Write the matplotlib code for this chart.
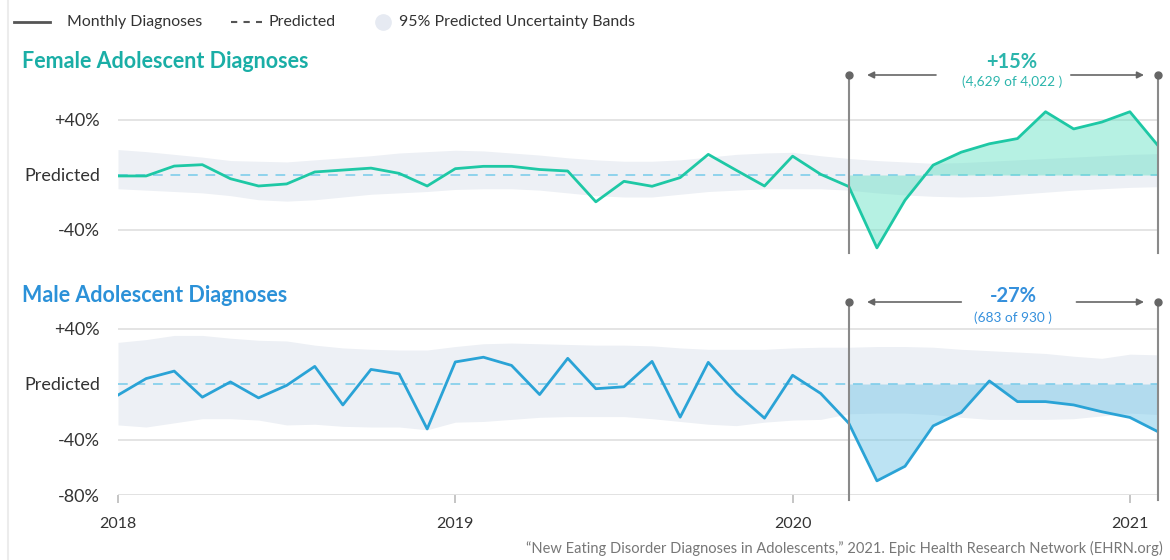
import numpy as np
import matplotlib
matplotlib.use("Agg")
import matplotlib.pyplot as plt
from matplotlib.lines import Line2D

plt.rcParams['font.family'] = ['Lato', 'DejaVu Sans']

# months since Jan 2018 (0 = 2018-01 ... 37 = 2021-02)
months = np.arange(38)
year_ticks = [0, 12, 24, 36]
year_labels = ["2018", "2019", "2020", "2021"]

# % difference from predicted
female = [-0.7, -0.7, 6.5, 7.5, -2.7, -8, -6.5, 2.2, 3.6, 5, 1.2, -8, 4.6, 6.3, 6.3, 4, 2.9, -19.5,
          -4.6, -8.2, -1.9, 15, 3.4, -8, 13.7, 0.5, -8.4, -53, -18.3, 7.2, 16.6, 22.7, 26.5, 46,
          33.5, 38.5, 46, 21.4]
female_hi = [18.5, 17, 15, 13, 10.5, 10, 9.5, 11, 12.5, 14, 16, 17, 18, 17.5, 16, 14.5, 12.5, 11,
             10, 10, 11, 13, 15, 16, 16.5, 14, 12, 10.5, 9.5, 8.5, 9, 10, 11, 12, 13, 14, 15, 15.5]
female_lo = [-10, -11, -12, -13, -15, -18, -19, -18, -16, -14, -13, -12, -10.5, -10, -10, -11, -13,
             -15, -16, -16, -14, -12, -11, -10, -10, -10, -11, -13, -14.5, -15.5, -16, -15.5, -14,
             -12.5, -11, -10, -9, -8.5]

male = [-8, 3.9, 9.3, -9.5, 1.5, -10, -1, 12.7, -15.1, 10.5, 7.3, -32.4, 15.9, 19.3, 13.4, -7.6,
        18.5, -3.4, -2, 16.3, -23.9, 15.6, -6.8, -24.6, 6.3, -6.8, -28.3, -69.8, -59.3, -30.2,
        -20.5, 2.2, -12.7, -12.7, -15.1, -20, -24.1, -34.4]
male_hi = [30, 32, 35, 35, 33, 31.5, 31, 28, 26, 25, 24.5, 24.5, 27, 29, 29.5, 29, 28.5, 28, 28,
           27.5, 26, 25, 25, 25, 26, 26.5, 26.5, 27, 27, 26.5, 25, 24, 23, 22, 20, 18.5, 21.5, 21]
male_lo = [-29.5, -31, -28, -25, -25, -26, -29.5, -29, -30.5, -31, -31, -33, -27.5, -27, -25.5,
           -24, -23.5, -23.5, -23.5, -25, -27, -29, -30, -27.5, -26, -25.5, -21.5, -21, -21, -22,
           -24, -25.5, -25.5, -25.5, -25, -23, -21, -22]

start = 26  # 2020-03
end = 37

W, H = 1170, 560
fig = plt.figure(figsize=(W / 100, H / 100), dpi=100)

def fx(px):
    return px / W

def fy(py):
    return 1 - py / H

band_col = "#edf0f5"
grid_col = "#e2e2e2"
pred_col = "#8fd3ec"
vline_col = "#8a8a8a"
dark = "#333333"

def panel(ax, vals, hi, lo, line_col, fill_col, ylim, yticks, ylabels):
    ax.set_xlim(0, end)
    ax.set_ylim(*ylim)
    for s in ax.spines.values():
        s.set_visible(False)
    for t in yticks:
        if t != 0:
            ax.axhline(t, color=grid_col, lw=1.3, zorder=0)
    ax.fill_between(months, lo, hi, color=band_col, lw=0, zorder=1)
    ax.axhline(0, color=pred_col, lw=1.4, ls=(0, (5, 4)), zorder=2)
    ax.fill_between(months[start:], vals[start:], 0, color=fill_col, alpha=0.45, lw=0, zorder=3)
    ax.plot(months, vals, color=line_col, lw=2, zorder=4)
    ax.set_yticks(yticks)
    ax.set_yticklabels(ylabels, fontsize=13, color=dark)
    ax.tick_params(axis='y', length=0, pad=13)

# female panel
axf = fig.add_axes([fx(118), fy(255), fx(1040), 185 / H])
f_top = (175 - 70) / 1.375
f_bot = (175 - 255) / 1.375
panel(axf, female, female_hi, female_lo, "#1ec8a5", "#5fe0c2", (f_bot, f_top),
      [40, 0, -40], ["+40%", "Predicted", "-40%"])
axf.set_xticks([])

# male panel
axm = fig.add_axes([fx(118), fy(495), fx(1040), 200 / H])
m_top = (384 - 295) / 1.3875
panel(axm, male, male_hi, male_lo, "#2aa3d6", "#6cc3e6", (-80, m_top),
      [40, 0, -40, -80], ["+40%", "Predicted", "-40%", "-80%"])
axm.axhline(-80, color=grid_col, lw=1.3, zorder=0)
axm.set_xticks(year_ticks)
axm.set_xticklabels(year_labels, fontsize=11.5, color=dark)
axm.tick_params(axis='x', length=6, color="#bbbbbb", width=1.2, pad=10)

# change-window markers and arrows
def window(ax, y_top, y_bot, left_tail, right_tail):
    for m in (start, end):
        ax.plot([m, m], [y_bot, y_top], color=vline_col, lw=1.5, clip_on=False, zorder=5)
        ax.plot(m, y_top, 'o', color="#666666", ms=5, clip_on=False, zorder=6)
    ap = dict(arrowstyle='-|>', color="#666666", lw=1.2, mutation_scale=10)
    ax.annotate('', xy=(26.55, y_top), xytext=(left_tail, y_top), arrowprops=ap, annotation_clip=False)
    ax.annotate('', xy=(36.6, y_top), xytext=(right_tail, y_top), arrowprops=ap, annotation_clip=False)

window(axf, (175 - 75) / 1.375, (175 - 253) / 1.375, 29.2, 33.8)
axf.text(31.8, (175 - 62) / 1.375, "+15%", ha='center', va='center', fontsize=14.5,
         fontweight='bold', color="#2bb5ac")
axf.text(31.8, (175 - 82) / 1.375, "(4,629 of 4,022 )", ha='center', va='center', fontsize=9.8,
         color="#2bb5ac")

window(axm, (384 - 302) / 1.3875, (384 - 500) / 1.3875, 30.1, 34.0)
axm.text(31.85, (384 - 296) / 1.3875, "-27%", ha='center', va='center', fontsize=14.5,
         fontweight='bold', color="#3590dc")
axm.text(31.85, (384 - 318) / 1.3875, "(683 of 930 )", ha='center', va='center', fontsize=9.8,
         color="#3590dc")

# titles
fig.text(fx(22), fy(61), "Female Adolescent Diagnoses", fontsize=15.5, fontweight='bold',
         color="#1aaea6", va='center')
fig.text(fx(22), fy(295), "Male Adolescent Diagnoses", fontsize=15.5, fontweight='bold',
         color="#2b91d8", va='center')

# legend
ly = fy(22)
fig.add_artist(Line2D([fx(14), fx(50)], [ly, ly], color="#555555", lw=2))
fig.text(fx(67), ly, "Monthly Diagnoses", fontsize=11.4, color=dark, va='center')
fig.add_artist(Line2D([fx(231), fx(262)], [ly, ly], color="#555555", lw=1.5, ls=(0, (3, 3))))
fig.text(fx(268), ly, "Predicted", fontsize=11.4, color=dark, va='center')
fig.add_artist(Line2D([fx(383)], [ly], marker='o', ms=11, color="#e6eaf2", lw=0))
fig.text(fx(399), ly, "95% Predicted Uncertainty Bands", fontsize=11.4, color=dark, va='center')

# card border
fig.add_artist(Line2D([fx(8), fx(8)], [0, 1], color="#ececec", lw=1.5))

# source
fig.text(fx(1163), fy(548), "\u201cNew Eating Disorder Diagnoses in Adolescents,\u201d 2021. Epic Health Research Network (EHRN.org)",
         fontsize=10.5, color="#777777", ha='right', va='center')

fig.savefig("out.png", dpi=100)
